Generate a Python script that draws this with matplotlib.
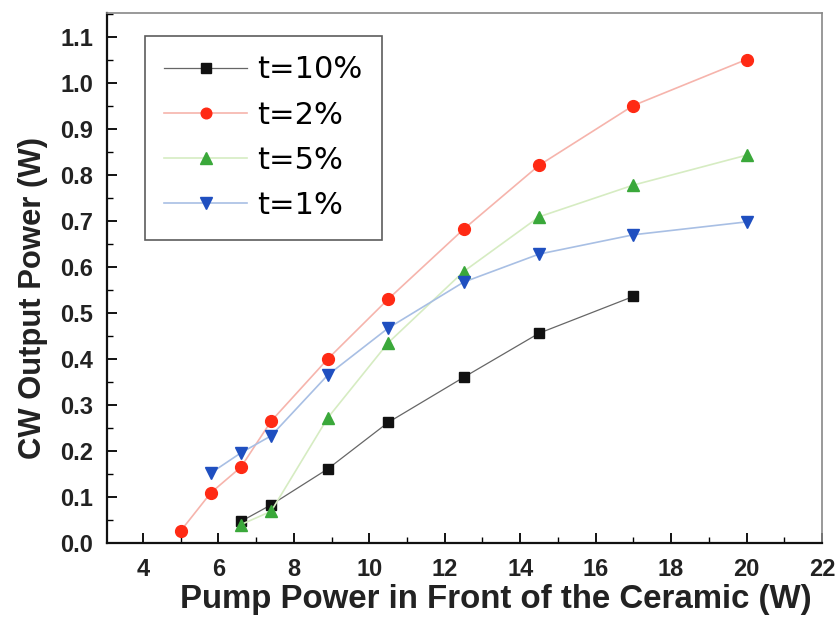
import matplotlib
matplotlib.use("Agg")
import matplotlib.pyplot as plt
from matplotlib.ticker import MultipleLocator

plt.rcParams['font.family'] = ['Liberation Sans', 'DejaVu Sans']

x10 = [6.6, 7.4, 8.9, 10.5, 12.5, 14.5, 17.0]
y10 = [0.047, 0.083, 0.161, 0.262, 0.360, 0.456, 0.536]

x2 = [5.0, 5.8, 6.6, 7.4, 8.9, 10.5, 12.5, 14.5, 17.0, 20.0]
y2 = [0.026, 0.109, 0.165, 0.265, 0.400, 0.530, 0.682, 0.821, 0.951, 1.051]

x5 = [6.6, 7.4, 8.9, 10.5, 12.5, 14.5, 17.0, 20.0]
y5 = [0.040, 0.069, 0.272, 0.435, 0.590, 0.709, 0.778, 0.843]

x1 = [5.8, 6.6, 7.4, 8.9, 10.5, 12.5, 14.5, 17.0, 20.0]
y1 = [0.152, 0.196, 0.233, 0.365, 0.467, 0.567, 0.628, 0.670, 0.698]

labels = ["t=10%", "t=2%", "t=5%", "t=1%"]
xticks = list(range(4, 23, 2))
yticks = [i / 10 for i in range(12)]

fig = plt.figure(figsize=(8.4, 6.21), dpi=100)
ax = fig.add_axes([0.1274, 0.1256, 0.8512, 0.8534])

ax.plot(x10, y10, color='#666666', lw=0.9, marker='s', ms=7.5, mfc='#111111', mec='#111111', label=labels[0])
ax.plot(x2, y2, color='#f6b4ac', lw=1.2, marker='o', ms=8.5, mfc='#ff2a14', mec='#ff2a14', label=labels[1])
ax.plot(x5, y5, color='#d6ecc2', lw=1.2, marker='^', ms=9, mfc='#3aa83a', mec='#3aa83a', label=labels[2])
ax.plot(x1, y1, color='#a8bfe4', lw=1.2, marker='v', ms=9, mfc='#1f4fc0', mec='#1f4fc0', label=labels[3])

ax.set_xlim(3.05, 22)
ax.set_ylim(0, 1.152)
ax.set_xticks(xticks)
ax.set_yticks(yticks)
ax.set_yticklabels([f"{v:.1f}" for v in yticks])
ax.xaxis.set_minor_locator(MultipleLocator(1))
ax.yaxis.set_minor_locator(MultipleLocator(0.05))

ax.tick_params(which='major', direction='in', length=7, width=1.3, labelsize=17)
ax.tick_params(axis='x', which='major', pad=11)
ax.tick_params(axis='y', which='major', pad=10)
ax.tick_params(which='minor', direction='in', length=4, width=1.0)
ax.tick_params(top=False, right=False, which='both')
for lab in ax.get_xticklabels() + ax.get_yticklabels():
    lab.set_fontweight('bold')
    lab.set_color('#222222')

for s in ['left', 'bottom']:
    ax.spines[s].set_linewidth(1.6)
    ax.spines[s].set_color('#111111')
for s in ['top', 'right']:
    ax.spines[s].set_linewidth(1.2)
    ax.spines[s].set_color('#888888')

ax.set_xlabel("Pump Power in Front of the Ceramic (W)", fontsize=23.8, fontweight='bold',
              color='#222222', labelpad=2, x=0.544)
ax.set_ylabel("CW Output Power (W)", fontsize=22.3, fontweight='bold', color='#222222',
              labelpad=9, y=0.462)

leg = ax.legend(loc='upper left', bbox_to_anchor=(0.053, 0.957), borderaxespad=0,
                prop={'family': 'DejaVu Sans', 'size': 22}, frameon=True, fancybox=False,
                handlelength=2.7, handletextpad=0.33, labelspacing=0.53, borderpad=0.64,
                markerscale=0.9)
leg.get_frame().set_edgecolor('#333333')
leg.get_frame().set_linewidth(1.2)

fig.savefig("out.png", dpi=100)
